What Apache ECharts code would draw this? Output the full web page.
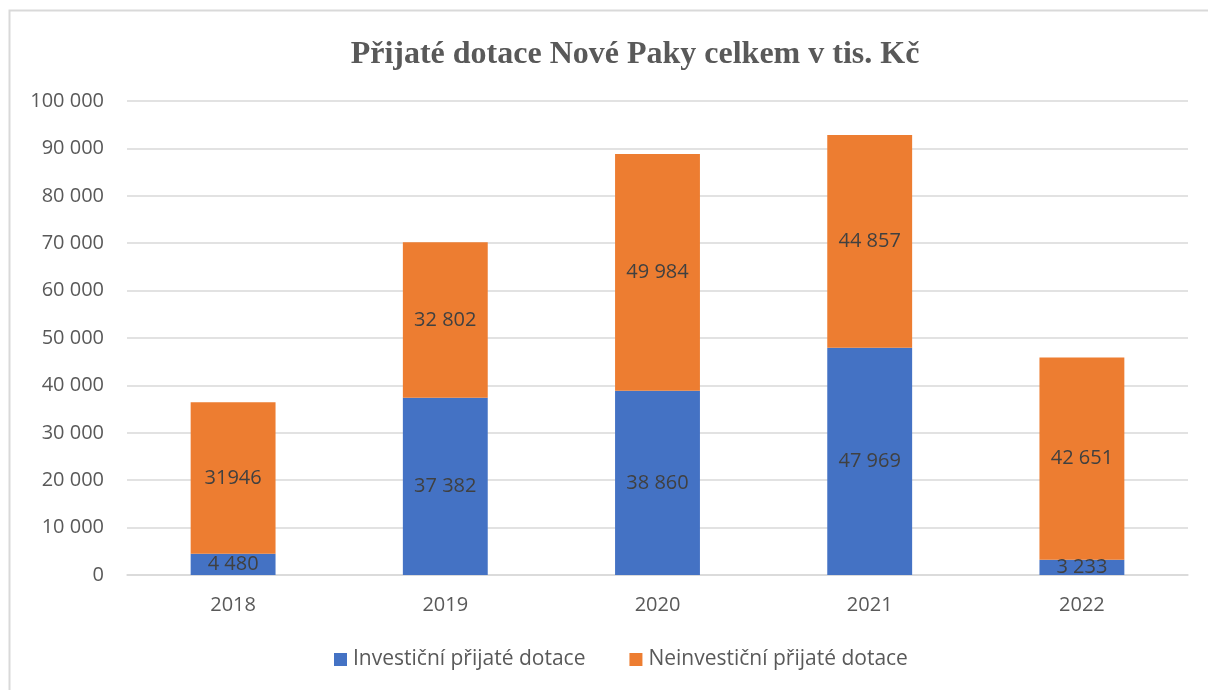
<!DOCTYPE html>
<html>
<head>
<meta charset="utf-8">
<script src="https://cdn.jsdelivr.net/npm/echarts@6/dist/echarts.min.js"></script>
<style>
  html, body { margin: 0; padding: 0; background: #fff; }
  #chart { width: 1208px; height: 690px; }
</style>
</head>
<body>
<div id="chart"></div>
<script>
// data
const years = ["2018", "2019", "2020", "2021", "2022"];
const investicni = [4480, 37382, 38860, 47969, 3233];
const neinvesticni = [31946, 32802, 49984, 44857, 42651];
// label texts as printed in the source (2018 value is shown without space)
const investicniLabels = ["4 480", "37 382", "38 860", "47 969", "3 233"];
const neinvesticniLabels = ["31946", "32 802", "49 984", "44 857", "42 651"];

const fmtThousands = (v) => String(v).replace(/\B(?=(\d{3})+(?!\d))/g, " ");

const chart = echarts.init(document.getElementById("chart"));
const textFont = "'Open Sans', 'Noto Sans', sans-serif";

chart.setOption({
  animation: false,
  textStyle: { fontFamily: textFont },
  graphic: [
    {
      type: "polyline",
      shape: { points: [[9.5, 700], [9.5, 10.5], [1208, 10.5]] },
      style: { stroke: "#d9d9d9", lineWidth: 2, fill: null },
    },
  ],
  title: {
    text: "Přijaté dotace Nové Paky celkem v tis. Kč",
    left: 630,
    textAlign: "center",
    top: 34,
    textStyle: {
      fontFamily: "'Liberation Serif', 'DejaVu Serif', serif",
      fontWeight: "bold",
      fontSize: 32,
      color: "#595959",
    },
  },
  legend: {
    bottom: 15,
    left: 329,
    itemWidth: 13,
    itemHeight: 13,
    itemGap: 44,
    icon: "rect",
    textStyle: { fontSize: 21, color: "#595959", fontFamily: textFont, padding: [0, 0, 0, 1] },
    data: ["Investiční přijaté dotace", "Neinvestiční přijaté dotace"],
  },
  grid: {
    left: 127,
    right: 20,
    top: 101,
    bottom: 115,
  },
  xAxis: {
    type: "category",
    data: years,
    axisLine: { lineStyle: { color: "#d9d9d9", width: 1.5 } },
    axisTick: { show: false },
    axisLabel: { color: "#595959", fontSize: 20, margin: 20 },
  },
  yAxis: {
    type: "value",
    min: 0,
    max: 100000,
    interval: 10000,
    axisLine: { show: false },
    axisTick: { show: false },
    splitLine: { lineStyle: { color: "#d9d9d9", width: 1.5 } },
    axisLabel: {
      color: "#595959",
      fontSize: 20,
      margin: 23,
      formatter: fmtThousands,
    },
  },
  series: [
    {
      name: "Investiční přijaté dotace",
      type: "bar",
      stack: "total",
      barWidth: "40%",
      data: investicni,
      itemStyle: { color: "#4472c4" },
      label: {
        show: true,
        position: "inside",
        color: "#404040",
        fontSize: 20,
        formatter: (p) => investicniLabels[p.dataIndex],
      },
    },
    {
      name: "Neinvestiční přijaté dotace",
      type: "bar",
      stack: "total",
      barWidth: "40%",
      data: neinvesticni,
      itemStyle: { color: "#ed7d31" },
      label: {
        show: true,
        position: "inside",
        color: "#404040",
        fontSize: 20,
        formatter: (p) => neinvesticniLabels[p.dataIndex],
      },
    },
  ],
});
</script>
</body>
</html>
